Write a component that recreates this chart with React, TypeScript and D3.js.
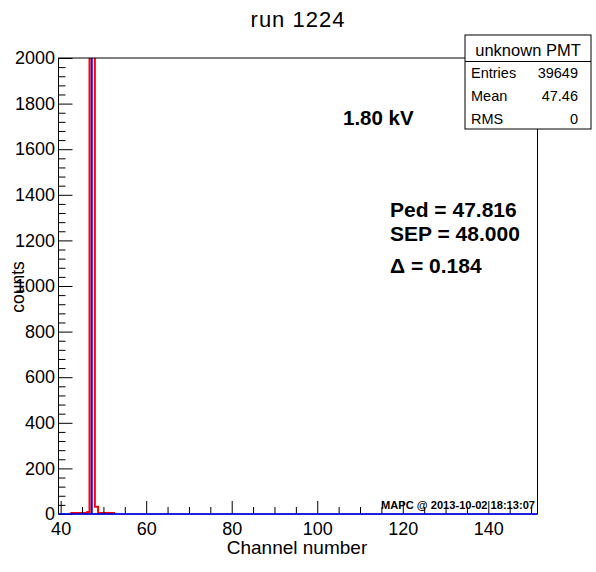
import React, {useRef, useEffect} from 'react'
import * as d3 from "d3";

// histogram contents (channel bin edges -> counts)
const redEdges = [42.5, 46.25, 46.75, 48.0, 48.75, 52.5];
const redCounts = [4, 9, 39649, 32, 4];
const blueEdges = [39.5, 47.0, 47.5, 151.5];
const blueCounts = [0, 39649, 0];

const xMajorTicks = [40, 60, 80, 100, 120, 140];
const yMajorTicks = [0, 200, 400, 600, 800, 1000, 1200, 1400, 1600, 1800, 2000];

const statsTitle = "unknown PMT";
const statsLabels = ["Entries", "Mean", "RMS"];
const statsValues = ["39649", "47.46", "0"];

const voltage = "1.80 kV";
const fitLines = ["Ped = 47.816", "SEP = 48.000"];
const deltaLine = "\u0394 = 0.184";
const stamp = "MAPC @ 2013-10-02 18:13:07";

const App = () => {
  const svgRef = useRef<SVGSVGElement>(null);

  useEffect(() => {
    const width = 596;
    const height = 572;
    const marginLeft = 58.5;
    const marginRight = 58.5;
    const marginTop = 58;
    const marginBottom = 58;
    const font = "'Liberation Sans', Arial, Helvetica, sans-serif";

    const x = d3.scaleLinear()
      .domain([39.5, 151.5])
      .range([marginLeft, width - marginRight]);

    const y = d3.scaleLinear()
      .domain([0, 2000])
      .range([height - marginBottom, marginTop]);

    const svg = d3.select(svgRef.current)
      .attr("viewBox", [0, 0, width, height])
      .attr("width", width)
      .attr("height", height)
      .attr("style", "position:absolute;left:0;top:0;background:#fff")
      .style("font-family", font);

    svg.selectAll("*").remove();

    svg.append("defs").append("clipPath")
      .attr("id", "plotclip")
      .append("rect")
      .attr("x", x.range()[0])
      .attr("y", y.range()[1])
      .attr("width", x.range()[1] - x.range()[0])
      .attr("height", y.range()[0] - y.range()[1]);

    // blue histogram (filled bin)
    const plot = svg.append("g").attr("clip-path", "url(#plotclip)");
    plot.append("g")
      .attr("fill", "#0000ff")
      .selectAll("rect")
      .data(blueCounts.map((c, i) => ({x0: blueEdges[i], x1: blueEdges[i + 1], c})).filter(d => d.c > 0))
      .join("rect")
        .attr("x", d => x(d.x0))
        .attr("width", d => x(d.x1) - x(d.x0))
        .attr("y", d => y(d.c))
        .attr("height", d => y(0) - y(d.c));

    // red histogram outline as steps
    const redPts: [number, number][] = [[redEdges[0], 0]];
    redCounts.forEach((c, i) => {
      redPts.push([redEdges[i], c]);
      redPts.push([redEdges[i + 1], c]);
    });
    redPts.push([redEdges[redEdges.length - 1], 0]);
    plot.append("path")
      .attr("d", d3.line<[number, number]>().x(d => x(d[0])).y(d => y(Math.min(d[1], 2200)))(redPts))
      .attr("fill", "none")
      .attr("stroke", "#ff0000")
      .attr("stroke-width", 2);

    // frame
    svg.append("rect")
      .attr("x", x.range()[0])
      .attr("y", y.range()[1])
      .attr("width", x.range()[1] - x.range()[0])
      .attr("height", y.range()[0] - y.range()[1])
      .attr("fill", "none")
      .attr("stroke", "#000");

    // x axis, ticks pointing inside
    svg.append("g")
      .attr("transform", `translate(0,${y(0)})`)
      .call(d3.axisBottom(x).tickValues(xMajorTicks).tickFormat(d3.format("d")).tickSizeInner(-13).tickSizeOuter(0).tickPadding(8))
      .call(g => g.select(".domain").remove())
      .call(g => g.selectAll("text").attr("font-size", 18).attr("font-family", font).attr("fill", "#000"));

    svg.append("g")
      .attr("transform", `translate(0,${y(0)})`)
      .call(d3.axisBottom(x).tickValues(d3.range(45, 151, 5).filter(v => !xMajorTicks.includes(v))).tickSizeInner(-7).tickSizeOuter(0).tickFormat(() => ""))
      .call(g => g.select(".domain").remove());

    // y axis
    svg.append("g")
      .attr("transform", `translate(${x.range()[0]},0)`)
      .call(d3.axisLeft(y).tickValues(yMajorTicks).tickFormat(d3.format("d")).tickSizeInner(-14).tickSizeOuter(0).tickPadding(3.5))
      .call(g => g.select(".domain").remove())
      .call(g => g.selectAll("text").attr("font-size", 18).attr("font-family", font).attr("fill", "#000"));

    svg.append("g")
      .attr("transform", `translate(${x.range()[0]},0)`)
      .call(d3.axisLeft(y).tickValues(d3.range(0, 2001, 40).filter(v => !yMajorTicks.includes(v))).tickSizeInner(-7).tickSizeOuter(0).tickFormat(() => ""))
      .call(g => g.select(".domain").remove());

    // blue zero line of the histogram along the axis
    svg.append("line")
      .attr("x1", x.range()[0]).attr("x2", x.range()[1])
      .attr("y1", y(0)).attr("y2", y(0))
      .attr("stroke", "#0000ff")
      .attr("stroke-width", 1.5);

    // title and axis labels
    svg.append("text")
      .attr("x", 298).attr("y", 27)
      .attr("text-anchor", "middle")
      .attr("font-size", 22)
      .attr("letter-spacing", 1)
      .text("run 1224");

    svg.append("text")
      .attr("x", 297).attr("y", 554)
      .attr("text-anchor", "middle")
      .attr("font-size", 19)
      .text("Channel number");

    svg.append("text")
      .attr("transform", "translate(24,287) rotate(-90)")
      .attr("text-anchor", "middle")
      .attr("font-size", 17.5)
      .text("counts");

    // annotations
    svg.append("text")
      .attr("x", 343).attr("y", 125)
      .attr("font-size", 20.5).attr("font-weight", "bold")
      .text(voltage);

    svg.append("g")
      .selectAll("text")
      .data(fitLines)
      .join("text")
        .attr("x", 390)
        .attr("y", (d, i) => 217 + i * 24)
        .attr("font-size", 21).attr("font-weight", "bold")
        .text(d => d);

    svg.append("text")
      .attr("x", 390).attr("y", 273)
      .attr("font-size", 21).attr("font-weight", "bold")
      .text(deltaLine);

    svg.append("text")
      .attr("x", 535).attr("y", 509)
      .attr("text-anchor", "end")
      .attr("font-size", 11.1).attr("font-weight", "bold")
      .text(stamp);

    // stats box
    const box = svg.append("g");
    box.append("rect")
      .attr("x", 465).attr("y", 35)
      .attr("width", 126).attr("height", 94)
      .attr("fill", "#fff").attr("stroke", "#000");
    box.append("line")
      .attr("x1", 465).attr("x2", 591)
      .attr("y1", 61.5).attr("y2", 61.5)
      .attr("stroke", "#000");
    box.append("text")
      .attr("x", 528).attr("y", 56)
      .attr("text-anchor", "middle")
      .attr("font-size", 16.5)
      .text(statsTitle);
    box.selectAll("text.lab")
      .data(statsLabels)
      .join("text")
        .attr("class", "lab")
        .attr("x", 471)
        .attr("y", (d, i) => 78 + i * 22.8)
        .attr("font-size", 14.5)
        .text(d => d);
    box.selectAll("text.val")
      .data(statsValues)
      .join("text")
        .attr("class", "val")
        .attr("x", 578)
        .attr("y", (d, i) => 78 + i * 22.8)
        .attr("text-anchor", "end")
        .attr("font-size", 14.5)
        .text(d => d);
  }, []);

  return (
    <svg ref={svgRef}/>
  );
}

export default App;
